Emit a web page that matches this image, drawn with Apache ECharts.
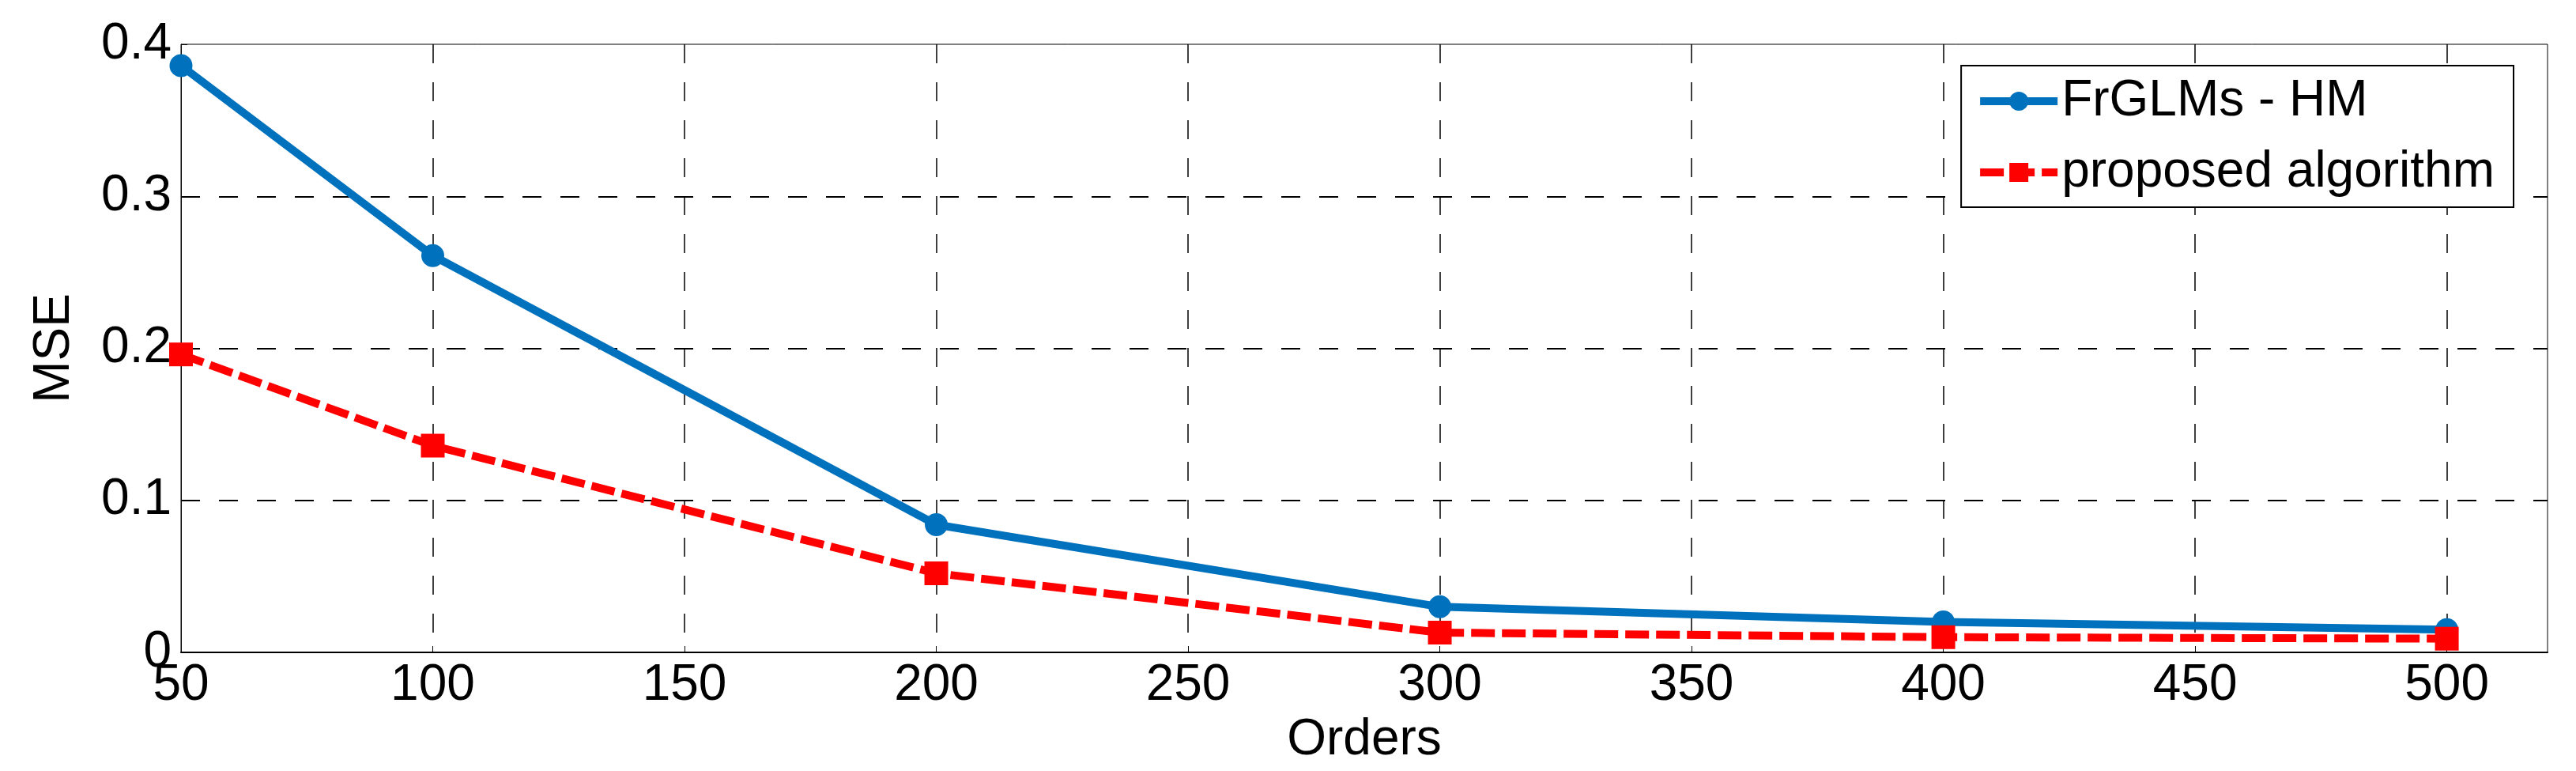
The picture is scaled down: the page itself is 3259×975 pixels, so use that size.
<!DOCTYPE html>
<html>
<head>
<meta charset="utf-8">
<script src="https://cdn.jsdelivr.net/npm/echarts@6/dist/echarts.min.js"></script>
<style>
html,body{margin:0;padding:0;background:#fff;}
#chart{width:3259px;height:975px;}
</style>
</head>
<body>
<div id="chart"></div>
<script>
const orders = [50, 100, 200, 300, 400, 500];
const frglmsHM = [0.386, 0.261, 0.084, 0.030, 0.020, 0.015];
const proposed = [0.196, 0.136, 0.052, 0.013, 0.010, 0.009];
const seriesNames = ['FrGLMs - HM', 'proposed algorithm'];
const xAxisName = 'Orders';
const yAxisName = 'MSE';

const font = "'Liberation Sans', Arial, sans-serif";
const chart = echarts.init(document.getElementById('chart'));
const gridLine = (w) => ({ show: true, lineStyle: { color: '#000', width: w, type: [24, 24] } });

chart.setOption({
  backgroundColor: '#fff',
  animation: false,
  grid: { left: 229, right: 36, top: 56, bottom: 150, show: true, borderColor: '#000', borderWidth: 1, backgroundColor: 'transparent' },
  legend: {
    orient: 'vertical',
    right: 3259 - 3180,
    top: 83,
    padding: [13, 24, 12, 19],
    itemGap: 26,
    itemWidth: 98,
    itemHeight: 30,
    backgroundColor: '#fff',
    borderColor: '#000',
    borderWidth: 2,
    borderRadius: 0,
    textStyle: { fontFamily: font, fontSize: 64, color: '#000', padding: [0, 0, 0, 0] },
    lineStyle: { width: 10 },
    data: [
      { name: seriesNames[0], lineStyle: { width: 10, color: '#0072BD', type: 'solid' } },
      { name: seriesNames[1], lineStyle: { width: 10, color: '#FF0000', type: [30, 9] } }
    ]
  },
  xAxis: {
    type: 'value',
    min: 50, max: 520, interval: 50,
    name: xAxisName, nameLocation: 'middle', nameGap: 78,
    nameTextStyle: { fontFamily: font, fontSize: 64, color: '#000' },
    axisLine: { show: true, onZero: false, lineStyle: { color: '#000', width: 2 } },
    axisTick: { show: true, inside: true, length: 8, lineStyle: { color: '#000', width: 1 } },
    axisLabel: { fontFamily: font, fontSize: 64, color: '#000', margin: 10, showMaxLabel: false },
    splitLine: Object.assign(gridLine(1.5), { showMinLine: false, showMaxLine: false })
  },
  yAxis: {
    type: 'value',
    min: 0, max: 0.4, interval: 0.1,
    name: yAxisName, nameLocation: 'middle', nameGap: 128, nameRotate: 90,
    nameTextStyle: { fontFamily: font, fontSize: 64, color: '#000' },
    axisLine: { show: true, lineStyle: { color: '#000', width: 1 } },
    axisTick: { show: true, inside: true, length: 8, lineStyle: { color: '#000', width: 1 } },
    axisLabel: { fontFamily: font, fontSize: 64, color: '#000', margin: 12 },
    splitLine: Object.assign(gridLine(2), { showMinLine: false, showMaxLine: false })
  },
  series: [
    {
      name: seriesNames[0], type: 'line',
      data: orders.map((x, i) => [x, frglmsHM[i]]),
      symbol: 'circle', symbolSize: 29,
      lineStyle: { color: '#0072BD', width: 10 },
      itemStyle: { color: '#0072BD' },
      z: 3
    },
    {
      name: seriesNames[1], type: 'line',
      data: orders.map((x, i) => [x, proposed[i]]),
      symbol: 'rect', symbolSize: 30,
      lineStyle: { color: '#FF0000', width: 10, type: [30, 9] },
      itemStyle: { color: '#FF0000' },
      z: 4
    }
  ]
});
</script>
</body>
</html>
